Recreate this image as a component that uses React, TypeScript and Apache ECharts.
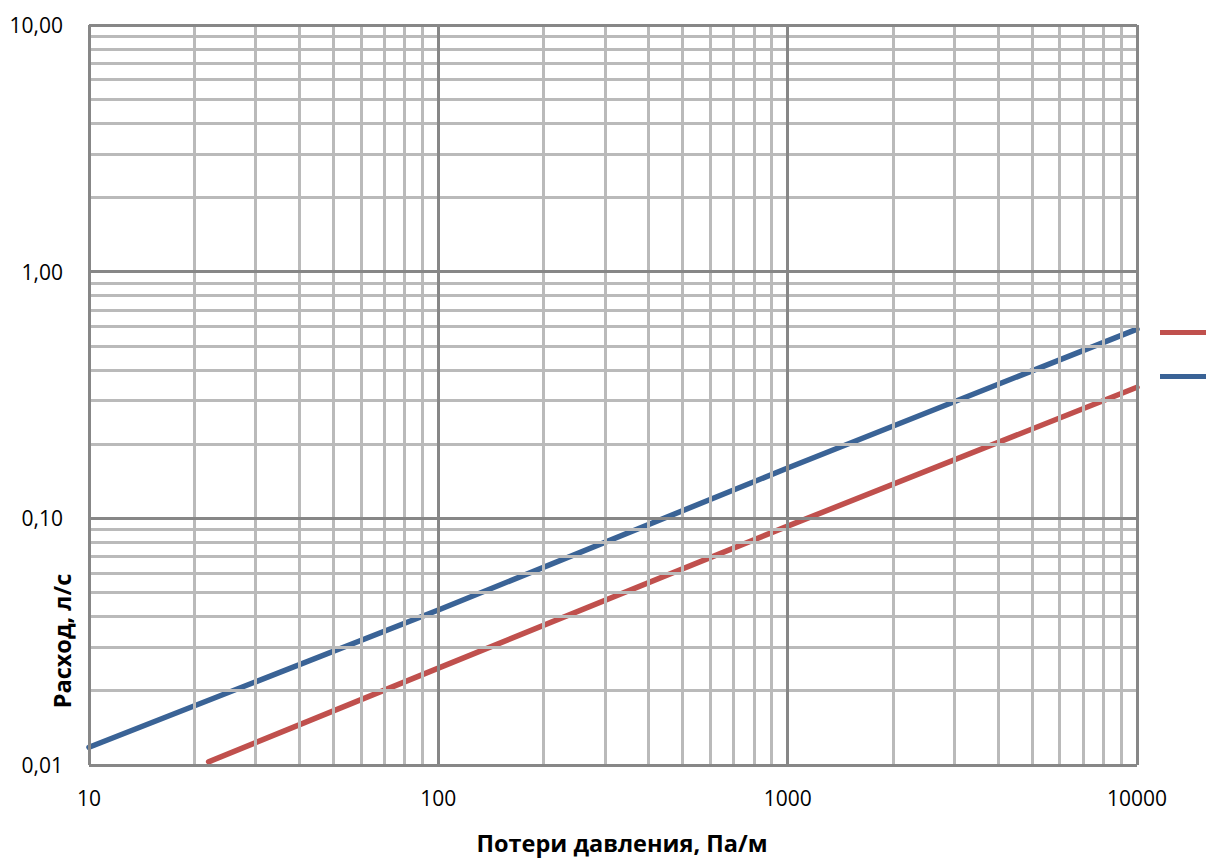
import React, { useEffect, useRef } from "react";
import * as echarts from "echarts";

const seriesNames = ["Ряд1", "Ряд2"];
const redPoints: [number, number][] = [
  [22, 0.0103],
  [100, 0.0247],
  [1000, 0.093],
  [10000, 0.34],
];
const bluePoints: [number, number][] = [
  [10, 0.0118],
  [100, 0.0425],
  [1000, 0.16],
  [10000, 0.585],
];
const xMajor = [10, 100, 1000, 10000];
const yMajor = [0.01, 0.1, 1, 10];
const xMinor = [20, 30, 40, 50, 60, 70, 80, 90, 200, 300, 400, 500, 600, 700, 800, 900, 2000, 3000, 4000, 5000, 6000, 7000, 8000, 9000];
const yMinor = [0.02, 0.03, 0.04, 0.05, 0.06, 0.07, 0.08, 0.09, 0.2, 0.3, 0.4, 0.5, 0.6, 0.7, 0.8, 0.9, 2, 3, 4, 5, 6, 7, 8, 9];
const xTitle = "Потери давления, Па/м";
const yTitle = "Расход, л/с";

const FONT = "Open Sans";

export default function App() {
  const ref = useRef<HTMLDivElement>(null);
  useEffect(() => {
    if (!ref.current) return;
    const chart = echarts.init(ref.current, null, { renderer: "svg" });
    const minorStyle = { color: "#bababa", width: 3, type: "solid" as const };
    const majorStyle = { color: "#878787", width: 3, type: "solid" as const };
    const gridLines = [
      ...xMinor.map((v) => ({ xAxis: v, lineStyle: minorStyle })),
      ...yMinor.map((v) => ({ yAxis: v, lineStyle: minorStyle })),
      ...xMajor.map((v) => ({ xAxis: v, lineStyle: majorStyle })),
      ...yMajor.map((v) => ({ yAxis: v, lineStyle: majorStyle })),
    ];
    chart.setOption({
      animation: false,
      backgroundColor: "#ffffff",
      textStyle: { fontFamily: FONT },
      grid: { left: 89, top: 25, width: 1048, height: 740, outerBoundsMode: "none" },
      legend: {
        orient: "vertical",
        left: 1155,
        top: 325,
        itemWidth: 51,
        itemHeight: 5,
        itemGap: 39,
        icon: "rect",
        data: seriesNames,
        formatter: () => "",
        textStyle: { fontSize: 1 },
        selectedMode: false,
      },
      xAxis: {
        type: "log",
        logBase: 10,
        min: 10,
        max: 10000,
        splitNumber: 3,
        axisLine: { show: false },
        axisTick: { show: false },
        splitLine: { show: false },
        axisLabel: {
          margin: 22,
          fontSize: 21,
          color: "#000",
          fontFamily: FONT,
          formatter: (v: number) => String(Math.round(v)),
        },
      },
      yAxis: {
        type: "log",
        logBase: 10,
        min: 0.01,
        max: 10,
        splitNumber: 3,
        axisLine: { show: false },
        axisTick: { show: false },
        splitLine: { show: false },
        axisLabel: {
          margin: 26,
          fontSize: 21,
          color: "#000",
          fontFamily: FONT,
          formatter: (v: number) => v.toFixed(2).replace(".", ","),
        },
      },
      graphic: [
        {
          type: "text",
          x: 622,
          y: 843,
          style: {
            text: xTitle,
            fontFamily: FONT,
            fontWeight: "bold",
            fontSize: 23.5,
            fill: "#000",
            textAlign: "center",
            textVerticalAlign: "middle",
          },
        },
        {
          type: "text",
          x: 62,
          y: 641,
          rotation: Math.PI / 2,
          style: {
            text: yTitle,
            fontFamily: FONT,
            fontWeight: "bold",
            fontSize: 23.5,
            fill: "#000",
            textAlign: "center",
            textVerticalAlign: "middle",
          },
        },
      ],
      series: [
        {
          type: "line",
          name: "grid",
          data: [],
          z: 1,
          silent: true,
          markLine: {
            silent: true,
            symbol: ["none", "none"],
            label: { show: false },
            animation: false,
            data: gridLines,
          },
        },
        {
          type: "line",
          name: seriesNames[0],
          data: redPoints,
          z: 3,
          showSymbol: false,
          symbol: "none",
          color: "#C0504D",
          lineStyle: { color: "#C0504D", width: 5.5, cap: "round" },
        },
        {
          type: "line",
          name: seriesNames[1],
          data: bluePoints,
          z: 3,
          showSymbol: false,
          symbol: "none",
          color: "#3A6396",
          lineStyle: { color: "#3A6396", width: 5.5, cap: "round" },
        },
      ],
    });
    return () => chart.dispose();
  }, []);
  return (
    <div
      ref={ref}
      style={{ position: "fixed", left: 0, top: 0, width: 1206, height: 858 }}
    />
  );
}
